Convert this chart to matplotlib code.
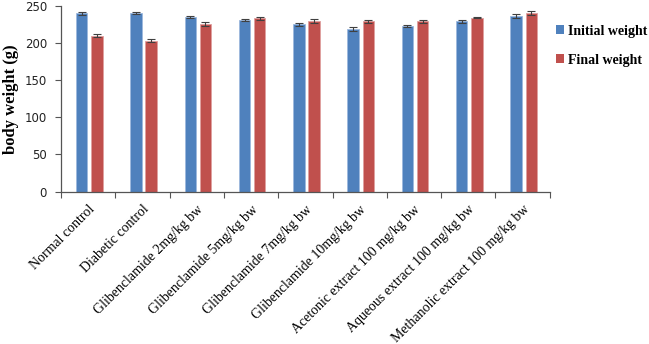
import matplotlib
matplotlib.use("Agg")
import matplotlib.pyplot as plt
import numpy as np
from matplotlib.patches import Patch

categories = ["Normal control", "Diabetic control", "Glibenclamide 2mg/kg bw",
              "Glibenclamide 5mg/kg bw", "Glibenclamide 7mg/kg bw",
              "Glibenclamide 10mg/kg bw", "Acetonic extract 100 mg/kg bw",
              "Aqueous extract 100 mg/kg bw", "Methanolic extract 100 mg/kg bw"]
initial_weight = [240, 240, 235, 231, 225, 219, 223, 229, 236]
initial_err = [2, 1.5, 1, 1.5, 1.5, 2.5, 1, 2.5, 2.5]
final_weight = [210, 203, 226, 233, 230, 229, 229, 234, 240]
final_err = [2.5, 2, 2.5, 1.5, 2.5, 1.5, 1.5, 1, 2.5]
series_names = ["Initial weight", "Final weight"]
yticks = [0, 50, 100, 150, 200, 250]

blue = "#4F81BD"
red = "#C0504D"

fig = plt.figure(figsize=(6.49, 3.44), dpi=100)
ax = fig.add_axes([0.094, 0.443, 0.753, 0.540])

x = np.arange(len(categories))
w = 0.21
off = 0.14
ekw = dict(ecolor="#404040", elinewidth=0.8, capsize=3, capthick=0.8)
ax.bar(x - off + 0.02, initial_weight, w, color=blue, edgecolor="#9DB9DD", linewidth=0.6,
       yerr=initial_err, error_kw=ekw, zorder=2)
ax.bar(x + off + 0.02, final_weight, w, color=red, edgecolor="#E0A0A0", linewidth=0.6,
       yerr=final_err, error_kw=ekw, zorder=2)

ax.set_xlim(-0.5, len(categories) - 0.5)
ax.set_ylim(0, 250)
ax.set_yticks(yticks)
ax.set_yticklabels([str(v) for v in yticks], fontsize=8.5, family="DejaVu Sans", color="#222222")
ax.set_xticks(np.arange(len(categories) + 1) - 0.5)
ax.set_xticklabels([])
ax.set_xticks(x, minor=True)
ax.set_xticklabels(categories, minor=True, rotation=45, ha="right", rotation_mode="anchor",
                   fontsize=10, family="Liberation Serif")
ax.tick_params(axis="x", which="minor", length=0, pad=8)
ax.tick_params(axis="x", which="major", length=4, direction="out", color="#555555")
ax.tick_params(axis="y", length=4, direction="out", color="#555555", pad=6)

for s in ["top", "right"]:
    ax.spines[s].set_visible(False)
for s in ["left", "bottom"]:
    ax.spines[s].set_color("#555555")
    ax.spines[s].set_linewidth(0.9)

ax.set_ylabel("body weight (g)", fontsize=12, family="Liberation Serif", fontweight="bold")
ax.yaxis.set_label_coords(-0.085, 0.5)

handles = [Patch(facecolor=blue), Patch(facecolor=red)]
fig.legend(handles, series_names, loc="upper left", bbox_to_anchor=(0.852, 0.936),
           frameon=False, handlelength=0.6, handleheight=0.6, handletextpad=0.25,
           borderpad=0.2, borderaxespad=0.0,
           labelspacing=1.15, prop=dict(family="Liberation Serif", weight="bold", size=10))

fig.savefig("out.png", dpi=100)
